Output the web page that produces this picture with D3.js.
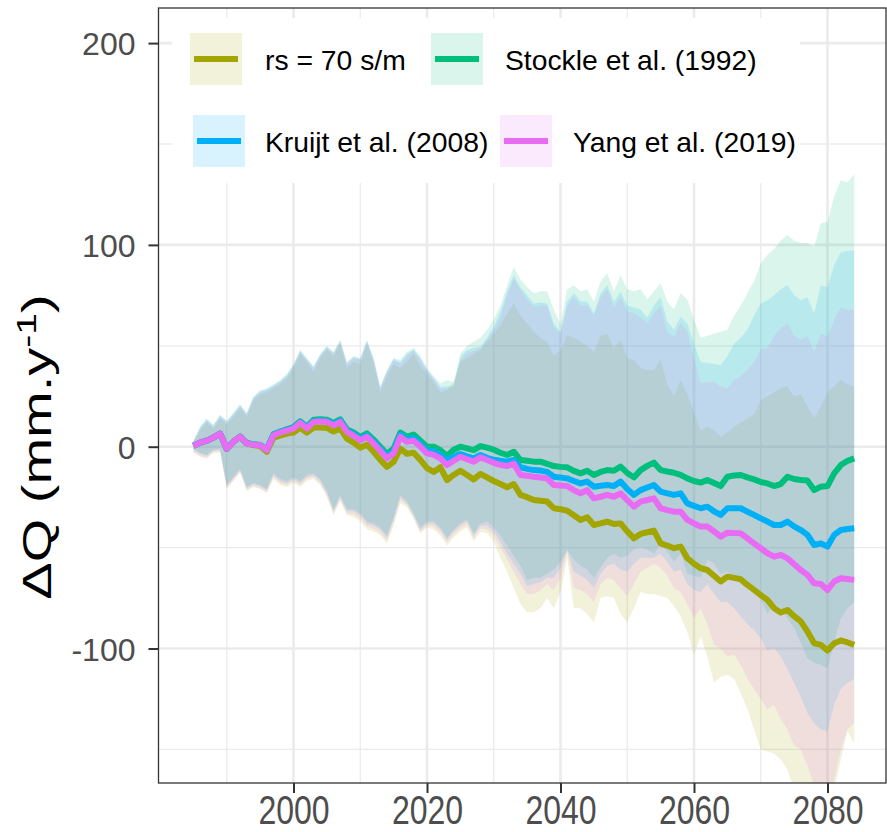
<!DOCTYPE html>
<html><head><meta charset="utf-8">
<script src="https://cdn.jsdelivr.net/npm/d3@7"></script>
<style>body{margin:0;background:#fff}svg{display:block}</style>
</head><body>
<svg id="chart" width="887" height="832"></svg>
<script>
// ---------- data ----------
const years = d3.range(1985, 2085);
const seriesNames = ["rs = 70 s/m", "Stockle et al. (1992)", "Kruijt et al. (2008)", "Yang et al. (2019)"];
const seriesColors = ["#A3A500", "#00BF7D", "#00B0F6", "#E76BF3"];
const xTicks = [2000, 2020, 2040, 2060, 2080];
const xMinorTicks = [1990, 2010, 2030, 2050, 2070];
const yTicks = [-100, 0, 100, 200];
const yMinorTicks = [-150, -50, 50, 150];

// mean lines
const rsMean = [0.5,2,3,4.5,6.5,-1,2.5,5,1.5,0.8, 0.3,-2.5,4.5,5.5,6.5,7,9.5,7,9.5,9.5,
 9.3,7.5,9,4,2,-0.5,1,-2.5,-6.5,-10, -7.5,-1,-3.5,-3,-6.5,-10.6,-12.5,-10.2,-16.5,-14,
 -11.9,-14,-16.2,-13.5,-15.2,-17,-18.5,-20.1,-18.5,-23.9, -25,-26.4,-26.8,-27.2,-30.5,-31,-31.7,-34,-36.3,-35,
 -38.8,-38,-37.1,-38.3,-38,-42,-45.4,-43.2,-42.4,-41.6, -47.9,-49,-50.3,-49.5,-55.3,-58,-60.2,-61.1,-64,-66.8,
 -64.4,-65,-65.7,-68.5,-71,-73.5,-75.9,-80,-82.2,-80.9, -84,-86.6,-91.6,-97.4,-98.2,-101,-97.4,-96,-97,-98.2];
const stockleMean = [0.5,2,3,4.5,6.5,-1,2.5,5,1.8,1.2, 0.9,-1.4,6.2,7.5,8.6,9.7,12.6,9.9,13.3,13.6,
 13.4,11.8,13.5,8.6,7,4.8,6.6,3.5,0,-3.5, -1,7,5,6,3,0,0,-1.7,-4.6,-1.5,
 0,-0.8,-1.7,0.3,-0.5,-1.5,-3,-4.1,-2.5,-6.6, -7,-7.4,-7.4,-8.5,-9.6,-10,-10.2,-12,-13.2,-11.9,
 -14,-12.5,-11.6,-11.9,-9.9,-13,-15.2,-11.6,-9.5,-7.9, -11.6,-12.3,-12.9,-14,-15.7,-17,-17.8,-16.5,-18,-19.5,
 -14.9,-14.3,-14,-15.2,-16.2,-17.5,-18.2,-19.5,-18.5,-14.9, -16,-16.5,-16.8,-21.5,-19.8,-19.5,-13.2,-9.1,-7,-5.8];
const kruijtMean = [0.5,2,3,4.5,6.5,-1,2.5,5,1.7,1.1, 0.8,-1.5,6,7.3,8.3,9.4,12.2,9.5,12.8,13,
 12.8,11.2,12.9,8,6.2,4,5.7,2.5,-1,-4.7, -2.2,6,3.6,4.3,1.3,-2,-2.3,-4.1,-6.6,-5,
 -3.6,-4.8,-5.8,-4.1,-5.5,-6.5,-7,-7.4,-6.6,-10.2, -11,-11.6,-11.8,-12.5,-14.9,-15.3,-15.7,-17,-18.2,-17.3,
 -19.8,-19.4,-19,-19.5,-17.3,-21,-23.9,-21.5,-20.2,-19, -22.3,-23.1,-23.9,-23.1,-28.1,-29.3,-30.5,-29.7,-32,-33.8,
 -30.5,-30.5,-30.5,-32.2,-33.8,-35.5,-37.1,-38.8,-38.8,-37.1, -39.5,-41.3,-43.7,-48.7,-47.9,-49.5,-43.7,-41.3,-40.8,-40.4];
const yangMean = [0.5,2,3,4.5,6.5,-1,2.5,5,1.6,1, 0.7,-1.7,5.7,7,8,9,11.8,9,12.3,12.5,
 12.3,10.6,12.3,7.3,5.5,3.2,4.9,1.6,-2,-5.8, -3.3,4.9,2.4,3,0,-3.3,-4,-5.8,-9.1,-7,
 -5,-6.2,-7.4,-5.3,-6.6,-8,-9,-9.6,-8.3,-14, -14.4,-14.9,-15.3,-15.7,-19,-19.2,-19.5,-21.5,-23.1,-21.5,
 -25.6,-24.8,-23.9,-24.8,-23.1,-26.5,-29.7,-27.2,-26.4,-25.6, -30.5,-31.4,-32.2,-32.2,-36.3,-38,-39.6,-39.6,-42,-44.6,
 -42.6,-42.8,-42.9,-45.4,-47.9,-50.3,-52.8,-54.5,-53.6,-55.3, -58.2,-61.1,-63.5,-67.7,-68,-71,-66.8,-65.2,-65.6,-66];

// upper bounds
const rsUpper = [2,8,12,9,14,11,15,19,15,23, 26,27,29,31,34,39,46,42,37,44,
 48,45,51,39,42,41,51,41,27,35, 41,39,42,46,40,36,32,27,28,32,
 42,44,46,48,52,56,60,66,71,65, 61,57,54,52,45,48,55,54,52,50,
 47,55,56,49,53,44,43,39,38,38, 43,31,25,33,26,17,8,10,8,5,
 7,10,12,14,16,23,25,27,29,30, 25,26,20,14,20,27,30,33,31,30];
const stockleUpper = [3,10,14,11,16,13,17,21,17,25, 28,29,31,33,36,41,48,44,40,46,
 50,47,53,42,45,44,53,44,30,38, 44,43,47,49,45,39,35,31.4,33,32,
 46,50,52,54,58,63,70,80,89,83, 79,76,77,77,68,61,78,80,77,78,
 72,82,86,77,85,78,77,78,73,77, 81,72,68,76,73,63,54,55,56,57,
 58,65,70,76,82,91,95,98,102,105, 102,101,101,99,110.6,111.4,124,132,131,135];
const kruijtUpper = [2.8,9.5,13.5,10.5,15.5,12.5,16.5,20.5,16.5,24.5, 27.5,28.5,30.5,32.5,35.5,40.5,47.5,43.5,39.5,45.5,
 49.5,46.5,52.5,41.5,44.5,43.5,52.5,43.5,29.5,37.5, 43.5,42,46,48,44,38,34,29.7,30,30.5,
 44.6,47.9,49,49.5,54,59.4,67,77,85,79, 75,71,71.5,71,61,57,72,76,72,72,
 66,76,80,72,76.7,70,69,68,64,70, 74,62,58,64.4,61,51,42,41.5,41,40.4,
 45,51,54,58,65,71,72.5,75,78,80, 75,72.6,74,66,80,79,90,96.5,97,97.4];
const yangUpper = [2.5,9,13,10,15,12,16,20,16,24, 27,28,30,32,35,40,47,43,39,45,
 49,46,52,41,44,43,52,43,29,37, 43,41,45,47.5,43,37.5,33.5,28.9,29,29.7,
 42.9,46.2,47.5,48.7,53,57.8,64,75,83.3,77.6, 73,69.3,70,70,59.4,56,70,74,70,70,
 65,74,78,69,74.3,67,66,64,61,66, 70,57,54.5,61,57,44,31.4,32,32.2,30,
 29,33,35,38,42,48,49,55,59,61, 55,53,55,47,56,54.5,63,69,68,67.7];

// lower bounds
const rsLower = [-3,-5,-6,-3,-3,-21,-17,-13,-22,-20, -21,-23,-16,-19,-20,-18,-20,-17,-16,-19,
 -25,-34,-27,-34,-35,-37,-41,-42,-44,-48, -39,-28,-30,-36,-43,-40,-41,-44,-49,-45,
 -42,-40,-47,-42,-43,-47,-55,-62,-70,-78, -82,-82,-80,-75,-80,-72,-55,-80,-80,-83,
 -87,-75,-74,-75,-83,-87,-80,-72,-73,-73, -74,-75,-79,-84,-92,-103,-94,-104,-117,-114,
 -113,-115,-122,-130,-140,-150,-151,-152,-155,-160, -170,-175,-180,-185,-185,-182,-170,-155,-141,-147];
const stockleLower = [-1,-3,-4,-1.4,-1,-19,-15,-11,-20,-18, -19,-21,-13,-16,-17,-15,-17,-14,-13,-16,
 -22,-31,-24,-31,-31,-33,-37,-38,-40,-44, -35,-24,-27,-33,-40,-37,-37,-40,-45,-41,
 -38,-36,-43,-38,-37,-40,-44,-49,-54,-59, -66,-65,-65,-63,-61,-57,-51,-56,-59,-61,
 -65,-60,-55,-53,-55,-54,-51,-50,-51,-53, -48,-52,-57,-53,-63,-64,-65,-56,-58,-63,
 -62,-65,-68,-70,-71,-76,-83,-78,-80,-85, -90,-97,-105,-107,-108,-110,-97,-85,-80,-77];
const kruijtLower = [-1.5,-3.5,-4.5,-2,-1.5,-19.5,-15.5,-11.5,-20.5,-18.5, -19.5,-21.5,-14,-17,-18,-16,-18,-15,-14,-17,
 -23,-32,-25,-32,-32,-34,-38,-39,-41,-45, -36,-25,-28,-34,-41,-38,-38,-41,-46,-42,
 -39,-37,-44,-39,-39,-42,-47,-53,-58,-63, -69,-68,-67,-65,-65,-60,-51.5,-62,-64,-66,
 -70,-63,-59,-58,-61,-62,-58,-55,-55,-55, -53,-57,-62,-61,-68,-71,-72,-68,-73,-77,
 -77,-80,-84,-88,-91,-95,-101,-100,-104,-110, -117,-124,-132,-137,-140,-141,-128,-120,-117,-115];
const yangLower = [-2.5,-4.5,-5.5,-2.5,-2.5,-20.5,-16.5,-12.5,-21.5,-19.5, -20.5,-22.5,-15,-18,-19,-17,-19,-16,-15,-18,
 -24,-33,-26,-33,-33.5,-35.5,-39.5,-40.5,-42.5,-46.5, -37.5,-26.5,-29,-35,-42,-39,-39.5,-42.5,-47.5,-43.5,
 -40.5,-38.5,-45.5,-40.5,-41,-44,-50,-56,-62,-68, -73,-73,-71,-68,-71,-65,-52,-70,-71,-73,
 -77,-68,-65,-66,-70,-74,-68,-62,-60,-58, -60,-64,-70,-72,-78,-85,-80,-88,-98,-100,
 -104,-103,-108,-115,-120,-125,-130,-128,-135,-140, -148,-150,-158,-168,-170,-175,-165,-150,-140,-137];

const means = [rsMean, stockleMean, kruijtMean, yangMean];
const uppers = [rsUpper, stockleUpper, kruijtUpper, yangUpper];
const lowers = [rsLower, stockleLower, kruijtLower, yangLower];

// ---------- layout ----------
const panel = {left: 158.5, right: 886, top: 8, bottom: 783};
const x = d3.scaleLinear().domain([2000, 2080]).range([293.5, 827.5]);
const y = d3.scaleLinear().domain([0, 200]).range([446.7, 43.1]);
const FONT = "Liberation Sans, Arial, sans-serif";

const svg = d3.select("#chart");
const defs = svg.append("defs");
defs.append("clipPath").attr("id", "clip").append("rect")
  .attr("x", panel.left).attr("y", panel.top)
  .attr("width", panel.right - panel.left).attr("height", panel.bottom - panel.top);

// grid
const grid = svg.append("g").attr("clip-path", "url(#clip)");
grid.selectAll(".vminor").data(xMinorTicks).join("line")
  .attr("x1", d => x(d)).attr("x2", d => x(d)).attr("y1", panel.top).attr("y2", panel.bottom)
  .attr("stroke", "#EBEBEB").attr("stroke-width", 1.3);
grid.selectAll(".hminor").data(yMinorTicks).join("line")
  .attr("y1", d => y(d)).attr("y2", d => y(d)).attr("x1", panel.left).attr("x2", panel.right)
  .attr("stroke", "#EBEBEB").attr("stroke-width", 1.3);
grid.selectAll(".vmajor").data(xTicks).join("line")
  .attr("x1", d => x(d)).attr("x2", d => x(d)).attr("y1", panel.top).attr("y2", panel.bottom)
  .attr("stroke", "#EBEBEB").attr("stroke-width", 2.6);
grid.selectAll(".hmajor").data(yTicks).join("line")
  .attr("y1", d => y(d)).attr("y2", d => y(d)).attr("x1", panel.left).attr("x2", panel.right)
  .attr("stroke", "#EBEBEB").attr("stroke-width", 2.6);

// ribbons
const plot = svg.append("g").attr("clip-path", "url(#clip)");
seriesNames.forEach((name, s) => {
  const area = d3.area()
    .x((d, i) => x(years[i]))
    .y0((d, i) => y(lowers[s][i]))
    .y1((d, i) => y(uppers[s][i]));
  plot.append("path").datum(years).attr("d", area)
    .attr("fill", seriesColors[s]).attr("fill-opacity", 0.15);
});
// lines
seriesNames.forEach((name, s) => {
  const line = d3.line().x((d, i) => x(years[i])).y(d => y(d));
  plot.append("path").datum(means[s]).attr("d", line)
    .attr("fill", "none").attr("stroke", seriesColors[s]).attr("stroke-width", 6)
    .attr("stroke-linejoin", "round").attr("stroke-linecap", "butt");
});

// legend (inside panel)
const leg = svg.append("g");
leg.append("rect").attr("x", 172).attr("y", 18).attr("width", 628).attr("height", 165).attr("fill", "#fff");
const legendPos = [
  {kx: 190, ky: 33, tx: 265, ty: 70},
  {kx: 431, ky: 33, tx: 505, ty: 70},
  {kx: 193, ky: 115, tx: 265, ty: 152},
  {kx: 500, ky: 115, tx: 573, ty: 152}
];
seriesNames.forEach((name, s) => {
  const p = legendPos[s];
  leg.append("rect").attr("x", p.kx).attr("y", p.ky).attr("width", 52).attr("height", 52)
    .attr("fill", seriesColors[s]).attr("fill-opacity", 0.15);
  leg.append("line").attr("x1", p.kx + 4).attr("x2", p.kx + 48).attr("y1", p.ky + 26).attr("y2", p.ky + 26)
    .attr("stroke", seriesColors[s]).attr("stroke-width", 6);
  leg.append("text").attr("x", p.tx).attr("y", p.ty).text(name)
    .attr("font-family", FONT).attr("font-size", 28.3).attr("fill", "#000");
});

// panel border
svg.append("rect").attr("x", panel.left).attr("y", panel.top)
  .attr("width", panel.right - panel.left).attr("height", panel.bottom - panel.top)
  .attr("fill", "none").attr("stroke", "#333").attr("stroke-width", 1.3);

// axes
const xAxis = svg.append("g").attr("transform", `translate(0,${panel.bottom})`)
  .call(d3.axisBottom(x).tickValues(xTicks).tickSize(10).tickFormat(d => String(d)));
const yAxis = svg.append("g").attr("transform", `translate(${panel.left},0)`)
  .call(d3.axisLeft(y).tickValues(yTicks).tickSize(10).tickPadding(13).tickFormat(d => String(d)));
[xAxis, yAxis].forEach(a => {
  a.select(".domain").remove();
  a.selectAll(".tick line").attr("stroke", "#333").attr("stroke-width", 2);
  a.selectAll(".tick text").attr("fill", "#4D4D4D")
    .attr("font-family", FONT).attr("font-size", 32);
});
xAxis.selectAll(".tick text").attr("y", 0).attr("dy", null)
  .attr("transform", "translate(0,40.5) scale(1,1.25)");
yAxis.selectAll(".tick text").attr("dy", "0.37em");

// y title
const title = svg.append("text")
  .attr("transform", "translate(51,447) rotate(-90) scale(1.4,1)")
  .attr("text-anchor", "middle")
  .attr("font-family", FONT).attr("font-size", 40).attr("fill", "#000");
title.append("tspan").text("ΔQ (mm.y");
title.append("tspan").attr("font-size", 28).attr("dy", -15).text("-1");
title.append("tspan").attr("dy", 15).text(")");
</script>
</body></html>
